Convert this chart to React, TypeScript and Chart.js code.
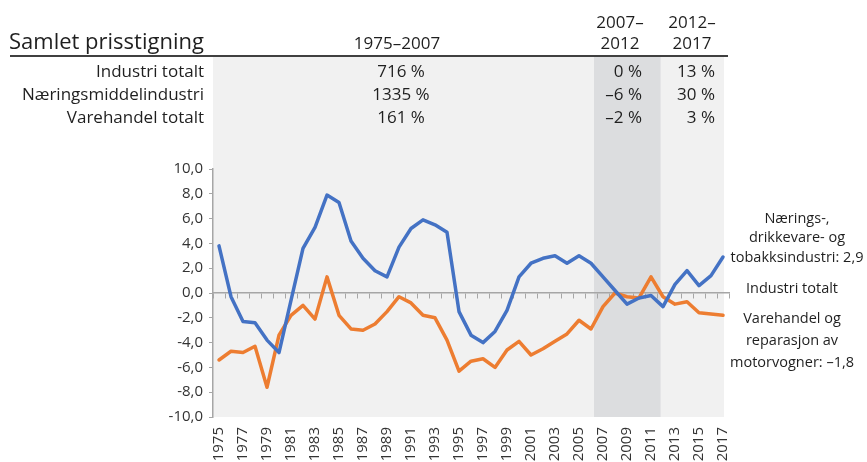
import React, { useEffect, useRef } from 'react';
import { Chart, registerables } from 'chart.js';

Chart.register(...registerables);

const years = [
  '1975', '1976', '1977', '1978', '1979', '1980', '1981', '1982', '1983', '1984',
  '1985', '1986', '1987', '1988', '1989', '1990', '1991', '1992', '1993', '1994',
  '1995', '1996', '1997', '1998', '1999', '2000', '2001', '2002', '2003', '2004',
  '2005', '2006', '2007', '2008', '2009', '2010', '2011', '2012', '2013', '2014',
  '2015', '2016', '2017',
];

// Nærings-, drikkevare- og tobakksindustri (difference from Industri totalt)
const naeringsmiddel = [
  3.8, -0.3, -2.3, -2.4, -3.8, -4.8, -0.6, 3.6, 5.3, 7.9,
  7.3, 4.2, 2.8, 1.8, 1.3, 3.7, 5.2, 5.9, 5.5, 4.9,
  -1.5, -3.4, -4.0, -3.1, -1.4, 1.3, 2.4, 2.8, 3.0, 2.4,
  3.0, 2.4, 1.3, 0.2, -0.9, -0.4, -0.2, -1.1, 0.7, 1.8,
  0.6, 1.4, 2.9,
];

// Varehandel og reparasjon av motorvogner
const varehandel = [
  -5.4, -4.7, -4.8, -4.3, -7.6, -3.4, -1.8, -1.0, -2.1, 1.3,
  -1.8, -2.9, -3.0, -2.5, -1.5, -0.3, -0.8, -1.8, -2.0, -3.8,
  -6.3, -5.5, -5.3, -6.0, -4.6, -3.9, -5.0, -4.5, -3.9, -3.3,
  -2.2, -2.9, -1.1, 0.0, -0.3, -0.4, 1.3, -0.3, -0.9, -0.7,
  -1.6, -1.7, -1.8,
];

const tableTitle = 'Samlet prisstigning';
const periodHeaders = [['1975–2007'], ['2007–', '2012'], ['2012–', '2017']];
const tableRows = ['Industri totalt', 'Næringsmiddelindustri', 'Varehandel totalt'];
const period1 = ['716 %', '1335 %', '161 %'];
const period2 = ['0 %', '–6 %', '–2 %'];
const period3 = ['13 %', '30 %', '3 %'];

const labelNaering = ['Nærings-,', 'drikkevare- og', 'tobakksindustri: 2,9'];
const labelIndustri = ['Industri totalt'];
const labelVarehandel = ['Varehandel og', 'reparasjon av', 'motorvogner: –1,8'];

// shaded period 2007–2012 on the category index scale
const shadeFrom = 31.25;
const shadeTo = 36.8;

const FONT = '"Open Sans", sans-serif';
const TEXT = '#1f1f1f';
const AXIS = '#a6a6a6';

const backgroundPlugin = {
  id: 'bgPanels',
  beforeDraw(chart: any) {
    const { ctx, chartArea, scales } = chart;
    const x = scales.x;
    const top = 57;
    const left = chartArea.left;
    const right = x.getPixelForValue(years.length - 1) + 1;
    ctx.save();
    ctx.fillStyle = '#f1f1f1';
    ctx.fillRect(left, top, right - left, chartArea.bottom - top);
    const b0 = x.getPixelForValue(shadeFrom);
    const b1 = x.getPixelForValue(shadeTo);
    ctx.fillStyle = '#dcdddf';
    ctx.fillRect(b0, top, b1 - b0, chartArea.bottom - top);
    ctx.restore();
  },
  afterDraw(chart: any) {
    const { ctx } = chart;
    ctx.save();
    ctx.fillStyle = TEXT;
    // header rule
    ctx.strokeStyle = '#000';
    ctx.lineWidth = 1.5;
    ctx.beginPath();
    ctx.moveTo(10, 56);
    ctx.lineTo(728, 56);
    ctx.stroke();

    ctx.textBaseline = 'alphabetic';
    ctx.font = `22px ${FONT}`;
    ctx.textAlign = 'left';
    ctx.fillText(tableTitle, 9, 49);

    ctx.font = `17px ${FONT}`;
    ctx.textAlign = 'center';
    ctx.fillText(periodHeaders[0][0], 397, 49);
    ctx.fillText(periodHeaders[1][0], 620, 28);
    ctx.fillText(periodHeaders[1][1], 620, 49);
    ctx.fillText(periodHeaders[2][0], 692, 28);
    ctx.fillText(periodHeaders[2][1], 692, 49);

    const rowY = [77, 100, 123];
    tableRows.forEach((r, i) => {
      ctx.textAlign = 'right';
      ctx.fillText(r, 204, rowY[i]);
      ctx.textAlign = 'center';
      ctx.fillText(period1[i], 401, rowY[i]);
      ctx.textAlign = 'right';
      ctx.fillText(period2[i], 642, rowY[i]);
      ctx.fillText(period3[i], 715, rowY[i]);
    });

    // right-hand series labels
    ctx.font = `14.5px ${FONT}`;
    ctx.textAlign = 'center';
    ctx.textBaseline = 'middle';
    const y1 = [219, 238, 258];
    labelNaering.forEach((t, i) => ctx.fillText(t, 797, y1[i]));
    ctx.fillText(labelIndustri[0], 792, 289);
    const y3 = [319, 341, 363];
    labelVarehandel.forEach((t, i) => ctx.fillText(t, 792, y3[i]));
    ctx.restore();
  },
};

export default function App() {
  const ref = useRef<HTMLCanvasElement | null>(null);

  useEffect(() => {
    if (!ref.current) return;
    const chart = new Chart(ref.current, {
      type: 'line',
      data: {
        labels: years,
        datasets: [
          {
            label: 'Nærings-, drikkevare- og tobakksindustri',
            data: naeringsmiddel,
            borderColor: '#4472c4',
            backgroundColor: '#4472c4',
            borderWidth: 3.5,
            pointRadius: 0,
            tension: 0,
            borderJoinStyle: 'round',
            borderCapStyle: 'round',
            xAxisID: 'x',
          },
          {
            label: 'Varehandel og reparasjon av motorvogner',
            data: varehandel,
            borderColor: '#ed7d31',
            backgroundColor: '#ed7d31',
            borderWidth: 3.5,
            pointRadius: 0,
            tension: 0,
            borderJoinStyle: 'round',
            borderCapStyle: 'round',
            xAxisID: 'x',
          },
        ],
      },
      options: {
        animation: false,
        responsive: false,
        devicePixelRatio: 1,
        layout: { padding: { top: 169, right: 138, bottom: 0, left: 0 } },
        plugins: {
          legend: { display: false },
          tooltip: { enabled: false },
        },
        scales: {
          x: {
            type: 'category',
            position: 'bottom',
            offset: true,
            grid: { display: false, drawTicks: false },
            border: { display: false },
            ticks: {
              autoSkip: false,
              minRotation: 90,
              maxRotation: 90,
              padding: 10,
              color: '#333',
              font: { family: FONT, size: 15 },
              callback: (_v: any, i: number) => (i % 2 === 0 ? years[i] : ''),
            },
            afterFit: (s: any) => {
              s.height = 45;
            },
          },
          xZero: {
            type: 'category',
            position: { y: 0 },
            offset: true,
            grid: {
              display: true,
              offset: true,
              drawOnChartArea: false,
              drawTicks: true,
              tickLength: 5,
              color: AXIS,
              lineWidth: 1,
            },
            border: { display: true, color: AXIS, width: 1.5 },
            ticks: { display: false },
          },
          y: {
            min: -10,
            max: 10,
            ticks: {
              stepSize: 2,
              padding: 6,
              color: '#333',
              font: { family: FONT, size: 15 },
              callback: (v: any) => Number(v).toFixed(1).replace('.', ','),
            },
            grid: {
              drawOnChartArea: false,
              drawTicks: true,
              tickLength: 4,
              color: AXIS,
              lineWidth: 1,
            },
            border: { display: true, color: AXIS, width: 1.5 },
            afterFit: (s: any) => {
              s.width = 213;
            },
          },
        },
      },
      plugins: [backgroundPlugin],
    } as any);
    return () => chart.destroy();
  }, []);

  return (
    <div style={{ position: 'fixed', left: 0, top: 0, width: 867, height: 462 }}>
      <canvas ref={ref} width={867} height={462} />
    </div>
  );
}
